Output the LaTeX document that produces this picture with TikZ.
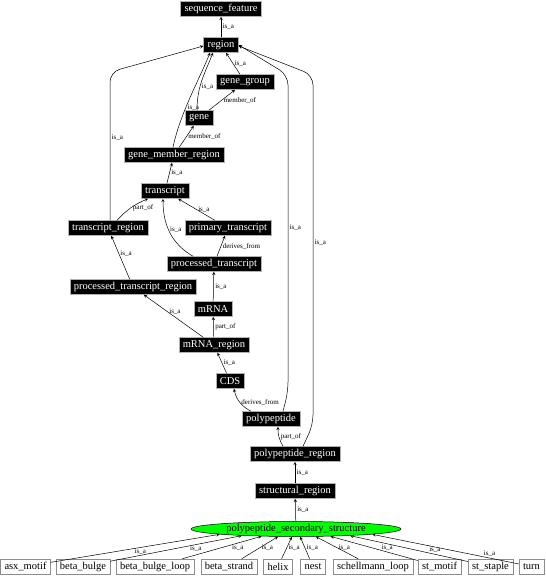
\documentclass[tikz,border=0pt]{standalone}
\usepackage{fontspec}
\setmainfont{Liberation Serif}
\usetikzlibrary{shapes.geometric}

\begin{document}
\begin{tikzpicture}[
  x=1pt,y=1pt,>=stealth,
  term/.style={draw=black!30,fill=black,text=white,inner xsep=4pt,inner ysep=0pt,
    minimum height=15pt,font=\fontsize{10.5}{12}\selectfont},
  leaf/.style={draw=black!45,fill=white,inner xsep=4pt,inner ysep=0pt,
    minimum height=15pt,font=\fontsize{10.5}{12}\selectfont},
  sec/.style={ellipse,draw=black,fill=green,minimum width=210pt,minimum height=15pt,
    inner sep=0pt,font=\fontsize{10.5}{12}\selectfont},
  rel/.style={font=\fontsize{7}{8}\selectfont,inner sep=1.5pt},
  every path/.style={line width=0.5pt}]
\useasboundingbox (0,0) rectangle (546,-576);
\node[term] (seqf) at (221,-9) {sequence\_feature};
\node[term] (region) at (221,-45) {region};
\node[term] (ggroup) at (245,-82) {gene\_group};
\node[term] (gene) at (199,-118) {gene};
\node[term] (gmr) at (174,-155) {gene\_member\_region};
\node[term] (trans) at (165,-191) {transcript};
\node[term] (trreg) at (108,-228) {transcript\_region};
\node[term] (ptrans) at (228,-228) {primary\_transcript};
\node[term] (proctr) at (214,-264) {processed\_transcript};
\node[term] (ptreg) at (133,-287) {processed\_transcript\_region};
\node[term] (mrna) at (213,-309) {mRNA};
\node[term] (mreg) at (214,-345) {mRNA\_region};
\node[term] (cds) at (230,-381) {CDS};
\node[term] (pept) at (271,-419) {polypeptide};
\node[term] (pepreg) at (295,-454) {polypeptide\_region};
\node[term] (streg) at (295,-491) {structural\_region};
\node[sec] (pss) at (296,-529) {polypeptide\_secondary\_structure};
\node[leaf] (asx) at (25.5,-566.5) {asx\_motif};
\node[leaf] (bbulge) at (83,-566.5) {beta\_bulge};
\node[leaf] (bbloop) at (155,-566.5) {beta\_bulge\_loop};
\node[leaf] (bstrand) at (229,-566.5) {beta\_strand};
\node[leaf] (helix) at (278,-566.5) {helix};
\node[leaf] (nest) at (313,-566.5) {nest};
\node[leaf] (schell) at (373,-566.5) {schellmann\_loop};
\node[leaf] (stmotif) at (439.5,-566.5) {st\_motif};
\node[leaf] (ststaple) at (490.5,-566.5) {st\_staple};
\node[leaf] (turn) at (531.5,-566.5) {turn};
% upper part
\draw[->] (region) -- node[rel,right] {is\_a} (seqf);
\draw[->] (ggroup) -- node[rel,right] {is\_a} (region);
\draw[->] ([xshift=-2pt]gene.north) to[out=90,in=-112]
  node[rel,right,pos=0.4] {is\_a} ([xshift=-8pt]region.south);
\draw[->] (gene) -- node[rel,right] {member\_of} (ggroup);
\draw[->] ([xshift=-1pt]gmr.north) .. controls +(78:35) and +(-112:30) ..
  node[rel,right,pos=0.4] {is\_a} ([xshift=-11pt]region.south);
\draw[->] (gmr) -- node[rel,right] {member\_of} (gene);
\draw[->] (trans) -- node[rel,right] {is\_a} (gmr);
\draw[->,rounded corners=10pt] ([xshift=2pt]trreg.north)
  -- node[rel,right,pos=0.56] {is\_a} (110,-72) -- ([yshift=-1pt]region.west);
\draw[->] ([xshift=9pt]trreg.north) to[bend left=12]
  node[rel,right] {part\_of} ([xshift=-17pt]trans.south);
\draw[->] (ptrans) -- node[rel,right] {is\_a} (trans);
\draw[->] ([xshift=-21pt]proctr.north) to[out=150,in=-90]
  node[rel,right,pos=0.55] {is\_a} ([xshift=-2pt]trans.south);
\draw[->] (proctr) -- node[rel,right] {derives\_from} (ptrans);
\draw[->] (ptreg) -- node[rel,right,pos=0.6] {is\_a} (trreg);
\draw[->] (mrna) -- node[rel,right] {is\_a} (proctr);
\draw[->] (mreg) -- node[rel,right,pos=0.6] {is\_a} (ptreg);
\draw[->] (mreg) -- node[rel,right] {part\_of} (mrna);
\draw[->] (cds) -- node[rel,right] {is\_a} (mreg);
\draw[->] ([xshift=-20pt]pept.north) to[bend left=25]
  node[rel,right] {derives\_from} ([xshift=4pt]cds.south);
\draw[->,rounded corners=10pt] ([xshift=12pt]pept.north) -- (288,-392)
  -- node[rel,right,pos=0.52] {is\_a} (288,-75) -- (region.east);
\draw[->,rounded corners=10pt] ([xshift=8pt]pepreg.north) -- (313,-425)
  -- node[rel,right,pos=0.52] {is\_a} (313,-75) -- ([yshift=-1pt]region.east);
\draw[->] ([xshift=-12pt]pepreg.north) to[bend left=15]
  node[rel,right] {part\_of} ([xshift=7pt]pept.south);
\draw[->] (streg) -- node[rel,right] {is\_a} (pepreg);
\draw[->] (pss) -- node[rel,right] {is\_a} (streg);
% secondary structure kinds
\draw[->] (asx) -- node[rel,below,pos=0.53] {is\_a} (pss.184);
\draw[->] (bbulge) -- node[rel,below,pos=0.65] {is\_a} (pss.187);
\draw[->] (bbloop) -- node[rel,below,pos=0.7] {is\_a} (pss.192);
\draw[->] (bstrand) -- node[rel,right] {is\_a} (pss.203);
\draw[->] (helix) -- node[rel,right] {is\_a} (pss.242);
\draw[->] (nest) -- node[rel,right] {is\_a} (pss.298);
\draw[->] (schell) -- node[rel,right] {is\_a} (pss.339);
\draw[->] (stmotif) -- node[rel,above,pos=0.35] {is\_a} (pss.348);
\draw[->] (ststaple) -- node[rel,above,pos=0.28] {is\_a} (pss.353);
\draw[->] (turn) -- node[rel,above,pos=0.2] {is\_a} (pss.356);
\end{tikzpicture}
\end{document}
